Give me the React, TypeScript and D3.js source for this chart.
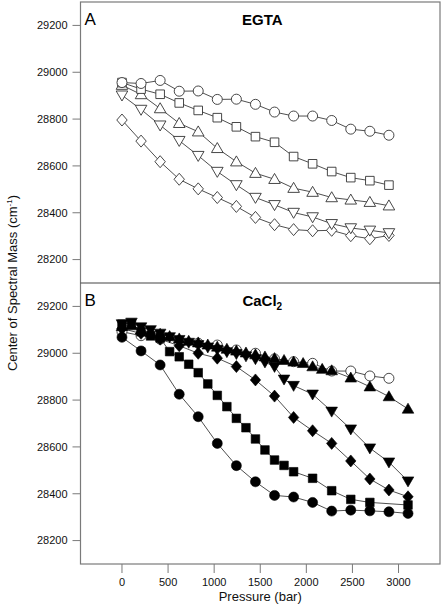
import React from "react";
import * as d3 from "d3";

// ---------- DATA ----------
// Pressure steps (bar) — 3000 psi increments
const pFull = [0, 207, 414, 621, 827, 1034, 1241, 1448, 1655, 1862, 2068, 2275, 2482, 2689, 2896, 3103];

// Panel A: EGTA (all open symbols), pressures pFull[0..14]
const egtaCircle = [28956, 28952, 28965, 28919, 28920, 28884, 28885, 28863, 28830, 28813, 28813, 28794, 28757, 28748, 28731];
const egtaSquare = [28956, 28928, 28906, 28869, 28837, 28806, 28767, 28725, 28701, 28640, 28609, 28576, 28550, 28537, 28518];
const egtaUpTri = [28945, 28905, 28845, 28782, 28746, 28675, 28618, 28569, 28543, 28505, 28488, 28465, 28455, 28445, 28430];
const egtaDownTri = [28902, 28841, 28774, 28708, 28644, 28576, 28519, 28465, 28434, 28401, 28382, 28353, 28335, 28325, 28314];
const egtaDiamond = [28796, 28706, 28618, 28543, 28502, 28465, 28427, 28380, 28349, 28328, 28323, 28325, 28302, 28289, 28303];

// Panel B: CaCl2
const caOpenCircleP = [0, 207, 414, 621, 827, 1034, 1241, 1448, 1655, 1862, 2068, 2275, 2482, 2689, 2896];
const caOpenCircle = [29092, 29075, 29060, 29050, 29043, 29035, 29014, 29000, 28976, 28964, 28957, 28924, 28924, 28903, 28893];

const caCircleP = [0, 207, 414, 621, 827, 1034, 1241, 1448, 1655, 1862, 2068, 2275, 2482, 2689, 2896, 3103];
const caCircle = [29068, 29010, 28950, 28825, 28729, 28615, 28520, 28451, 28393, 28386, 28363, 28326, 28330, 28327, 28323, 28316];

const caSquareP = [0, 103, 207, 310, 414, 517, 621, 724, 827, 931, 1034, 1138, 1241, 1345, 1448, 1551, 1655, 1758, 1862, 2068, 2275, 2482, 2689, 3103];
const caSquare = [29124, 29128, 29092, 29074, 29065, 29007, 28985, 28953, 28917, 28869, 28820, 28772, 28722, 28682, 28634, 28587, 28544, 28521, 28494, 28466, 28413, 28376, 28363, 28352];

const caUpTriP = [0, 103, 207, 310, 414, 517, 621, 724, 827, 931, 1034, 1138, 1241, 1345, 1448, 1551, 1655, 1758, 1862, 1965, 2068, 2172, 2275, 2482, 2689, 2896, 3103];
const caUpTri = [29115, 29118, 29100, 29090, 29082, 29072, 29062, 29052, 29045, 29036, 29027, 29018, 29010, 29002, 28994, 28985, 28978, 28970, 28963, 28957, 28943, 28932, 28926, 28895, 28857, 28815, 28762];

const caDownTriP = [0, 103, 207, 310, 414, 517, 621, 724, 827, 931, 1034, 1138, 1241, 1345, 1448, 1551, 1655, 1758, 1862, 2068, 2275, 2482, 2689, 2896, 3103];
const caDownTri = [29125, 29132, 29112, 29100, 29085, 29070, 29058, 29046, 29036, 29026, 29016, 29006, 28998, 28988, 28976, 28962, 28943, 28889, 28862, 28825, 28752, 28676, 28595, 28535, 28454];

const caDiamondP = [0, 207, 414, 621, 827, 1034, 1241, 1448, 1655, 1862, 2068, 2275, 2482, 2689, 2896, 3103];
const caDiamond = [29105, 29085, 29060, 29032, 29000, 28979, 28943, 28886, 28817, 28726, 28669, 28615, 28540, 28463, 28416, 28387];

const xTicks = [0, 500, 1000, 1500, 2000, 2500, 3000];
const yTicks = [28200, 28400, 28600, 28800, 29000, 29200];

// ---------- LAYOUT ----------
const W = 442, H = 613;
const L = 80.5, R = 440;
const panels = [
  { top: 2, bottom: 283 },
  { top: 283, bottom: 564 },
];
const FONT = "Arial, 'Liberation Sans', Helvetica, sans-serif";
const FRAME = "#7a7a7a";

type Shape = "circle" | "square" | "up" | "down" | "diamond";

function shapePath(shape: Shape, cx: number, cy: number): string {
  const p = d3.path();
  if (shape === "circle") {
    p.moveTo(cx + 5, cy);
    p.arc(cx, cy, 5, 0, Math.PI * 2);
  } else if (shape === "square") {
    const s = 4.3;
    p.rect(cx - s, cy - s, 2 * s, 2 * s);
  } else if (shape === "up") {
    p.moveTo(cx, cy - 5.8);
    p.lineTo(cx + 5.8, cy + 4.2);
    p.lineTo(cx - 5.8, cy + 4.2);
    p.closePath();
  } else if (shape === "down") {
    p.moveTo(cx, cy + 5.8);
    p.lineTo(cx + 5.8, cy - 4.2);
    p.lineTo(cx - 5.8, cy - 4.2);
    p.closePath();
  } else {
    p.moveTo(cx, cy - 6);
    p.lineTo(cx + 5.2, cy);
    p.lineTo(cx, cy + 6);
    p.lineTo(cx - 5.2, cy);
    p.closePath();
  }
  return p.toString();
}

interface Series {
  p: number[];
  v: number[];
  shape: Shape;
  filled: boolean;
}

const topSeries: Series[] = [
  { p: pFull.slice(0, 15), v: egtaDiamond, shape: "diamond", filled: false },
  { p: pFull.slice(0, 15), v: egtaDownTri, shape: "down", filled: false },
  { p: pFull.slice(0, 15), v: egtaUpTri, shape: "up", filled: false },
  { p: pFull.slice(0, 15), v: egtaSquare, shape: "square", filled: false },
  { p: pFull.slice(0, 15), v: egtaCircle, shape: "circle", filled: false },
];

const bottomSeries: Series[] = [
  { p: caOpenCircleP, v: caOpenCircle, shape: "circle", filled: false },
  { p: caCircleP, v: caCircle, shape: "circle", filled: true },
  { p: caSquareP, v: caSquare, shape: "square", filled: true },
  { p: caDiamondP, v: caDiamond, shape: "diamond", filled: true },
  { p: caDownTriP, v: caDownTri, shape: "down", filled: true },
  { p: caUpTriP, v: caUpTri, shape: "up", filled: true },
];

const x = d3.scaleLinear().domain([-450, 3450]).range([L, R]);

function Panel({ idx, series, letter, title }: { idx: number; series: Series[]; letter: string; title: React.ReactNode }) {
  const { top, bottom } = panels[idx];
  const y = d3.scaleLinear().domain([28100, 29300]).range([bottom, top]);
  const line = d3.line<[number, number]>().x((d) => x(d[0])).y((d) => y(d[1]));
  return (
    <g>
      {yTicks.map((t) => (
        <g key={t}>
          <line x1={L - 8} x2={L} y1={y(t)} y2={y(t)} stroke={FRAME} strokeWidth={1} />
          <text x={L - 13} y={y(t)} dy="0.35em" textAnchor="end" fontSize={11} fontFamily={FONT} fill="#111">
            {t}
          </text>
        </g>
      ))}
      {series.map((s, i) => (
        <path
          key={"l" + i}
          d={line(s.p.map((pp, j) => [pp, s.v[j]] as [number, number])) || ""}
          fill="none"
          stroke="#222"
          strokeWidth={0.8}
        />
      ))}
      {series.map((s, i) => (
        <g key={"m" + i}>
          {s.p.map((pp, j) => (
            <path
              key={j}
              d={shapePath(s.shape, x(pp), y(s.v[j]))}
              fill={s.filled ? "#000" : "#fff"}
              stroke={s.filled ? "#000" : "#333"}
              strokeWidth={s.filled ? 0.6 : 0.9}
            />
          ))}
        </g>
      ))}
      <text x={L + 4} y={top + 23} fontSize={17} fontFamily={FONT} fill="#000">
        {letter}
      </text>
      <text x={(L + R) / 2 + 2} y={top + 23} fontSize={15} fontWeight="bold" fontFamily={FONT} textAnchor="middle" fill="#000">
        {title}
      </text>
    </g>
  );
}

export default function App() {
  const yBot = panels[1].bottom;
  return (
    <svg width={W} height={H} style={{ position: "absolute", left: 0, top: 0, background: "#fff" }}>
      <rect x={0} y={0} width={W} height={H} fill="#fff" />
      <Panel idx={0} series={topSeries} letter="A" title="EGTA" />
      <Panel
        idx={1}
        series={bottomSeries}
        letter="B"
        title={
          <>
            CaCl<tspan fontSize={10} dy={4}>2</tspan>
          </>
        }
      />
      <rect x={L} y={panels[0].top} width={R - L} height={panels[1].bottom - panels[0].top} fill="none" stroke={FRAME} strokeWidth={1.2} />
      <line x1={L} x2={R} y1={panels[0].bottom} y2={panels[0].bottom} stroke="#444" strokeWidth={1.2} />
      {xTicks.map((t) => (
        <g key={t}>
          <line x1={x(t)} x2={x(t)} y1={yBot} y2={yBot + 9} stroke={FRAME} strokeWidth={1} />
          <text x={x(t)} y={yBot + 18} dy="0.35em" textAnchor="middle" fontSize={11} fontFamily={FONT} fill="#111">
            {t}
          </text>
        </g>
      ))}
      <text x={(L + R) / 2} y={601} textAnchor="middle" fontSize={13} fontFamily={FONT} fill="#111">
        Pressure (bar)
      </text>
      <text
        transform={`translate(17, ${panels[1].top}) rotate(-90)`}
        textAnchor="middle"
        fontSize={13}
        fontFamily={FONT}
        fill="#111"
      >
        Center of Spectral Mass (cm<tspan fontSize={8} dy={-5}>-1</tspan>
        <tspan dy={5}>)</tspan>
      </text>
    </svg>
  );
}
